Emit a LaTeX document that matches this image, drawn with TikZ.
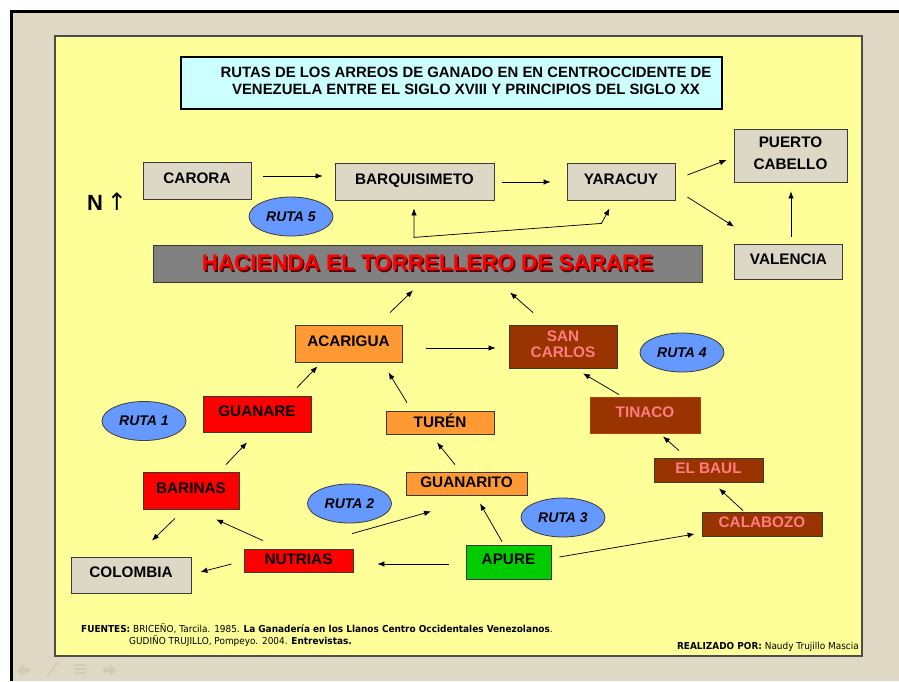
\documentclass[tikz,border=0pt]{standalone}
\usepackage{fontspec}
\setmainfont{Liberation Sans}
\newfontfamily\dejavu{DejaVu Sans}
\newfontfamily\footfont{DejaVu Sans}[FakeStretch=0.93]
\usetikzlibrary{arrows.meta,shapes.geometric,calc}
\definecolor{outerbg}{HTML}{DFD8C5}
\definecolor{panel}{HTML}{FFFF99}
\definecolor{beigebox}{HTML}{DDD8C6}
\definecolor{cyanbox}{HTML}{CCFFFF}
\definecolor{graybox}{HTML}{808080}
\definecolor{orangebox}{HTML}{FF9933}
\definecolor{redbox}{HTML}{FF0000}
\definecolor{brownbox}{HTML}{993300}
\definecolor{pinktext}{HTML}{FF7C80}
\definecolor{greenbox}{HTML}{00CC00}
\definecolor{rutafill}{HTML}{6699FF}
\definecolor{boxline}{HTML}{3A3A3A}
\definecolor{navgray}{HTML}{D2CBB8}
\definecolor{shadowred}{HTML}{5A0000}
\newcommand{\shadowtxt}[1]{\rlap{\kern1.6pt\raisebox{-1.6pt}{\color{shadowred}#1}}#1}
\begin{document}
\begin{tikzpicture}[x=1pt,y=-1pt,
  box/.style={draw=boxline, line width=0.8pt, inner sep=0pt, align=center,
    text depth=5pt, font=\bfseries\fontsize{15.3}{22}\selectfont},
  ruta/.style={ellipse, draw=boxline, line width=0.8pt, fill=rutafill,
    minimum width=84pt, minimum height=39pt, inner sep=0pt,
    font=\bfseries\itshape\fontsize{14}{15}\selectfont},
  arr/.style={-{Latex[length=7pt,width=5.5pt]}, line width=0.75pt},
  arrboth/.style={{Latex[length=7pt,width=5.5pt]}-{Latex[length=7pt,width=5.5pt]}, line width=0.75pt}]
\useasboundingbox (0,0) rectangle (899,681);
\fill[white] (0,0) rectangle (899,681);
\fill[outerbg] (11,11) rectangle (899,681);
\draw[black, line width=3.5pt] (11.5,681) -- (11.5,11.5) -- (899,11.5);
\draw[fill=panel, draw=gray!60!black, line width=1.2pt] (55,36) rectangle (862,656);
% nav icons
\fill[navgray] (17,670) -- (23,664) -- (23,667.5) -- (30,667.5) -- (30,672.5) -- (23,672.5) -- (23,676) -- cycle;
\draw[navgray, line width=1.6pt] (47,677) -- (57,663);
\fill[navgray] (74,664) rectangle (86,666) (74,668) rectangle (86,670) (74,672) rectangle (86,674);
\fill[navgray] (116,670) -- (110,664) -- (110,667.5) -- (103,667.5) -- (103,672.5) -- (110,672.5) -- (110,676) -- cycle;

% title
\node[draw=black, line width=2.4pt, fill=cyanbox, minimum width=541pt, minimum height=52pt,
  inner sep=0pt] (title) at (451.5,83) {};
\node[inner sep=0pt, align=center, font=\bfseries\fontsize{14.9}{17.5}\selectfont] (titletext) at (466,81)
  {RUTAS DE LOS ARREOS DE GANADO EN EN CENTROCCIDENTE DE\\VENEZUELA ENTRE EL SIGLO XVIII Y PRINCIPIOS DEL SIGLO XX};

\node[font=\bfseries\fontsize{22}{22}\selectfont, anchor=center] (north) at (107,202)
  {N\hspace{4pt}{\dejavu\mdseries\fontsize{24}{24}\selectfont ↑}};

% top row
\node[box, fill=beigebox, minimum width=108pt, minimum height=37pt] (carora) at (197,180.5) {CARORA};
\node[box, fill=beigebox, minimum width=159pt, minimum height=37pt] (barq) at (414.5,181.5) {BARQUISIMETO};
\node[box, fill=beigebox, minimum width=108pt, minimum height=37pt] (yar) at (621,181.5) {YARACUY};
\node[box, fill=beigebox, minimum width=113pt, minimum height=53pt] (pc) at (790.5,155.5) {PUERTO\\CABELLO};
\node[box, fill=beigebox, minimum width=108pt, minimum height=35pt] (val) at (788.5,261.5) {VALENCIA};

\node[draw=boxline, line width=0.8pt, fill=graybox, minimum width=549pt, minimum height=37pt, inner sep=0pt,
  font=\bfseries\fontsize{22.4}{24}\selectfont, text=red] (hac) at (427.5,263.5)
  {\shadowtxt{HACIENDA EL TORRELLERO DE SARARE}};

% middle
\node[box, fill=orangebox, minimum width=107pt, minimum height=37pt] (aca) at (348.5,343.5) {ACARIGUA};
\node[box, fill=brownbox, text=pinktext, minimum width=108pt, minimum height=43pt,
  font=\bfseries\fontsize{15.3}{16}\selectfont] (sc) at (563,346.5) {SAN\\CARLOS};
\node[box, fill=brownbox, text=pinktext, draw=brownbox!80!orange, minimum width=110pt, minimum height=36pt] (tin) at (645,415) {TINACO};
\node[box, fill=brownbox, text=pinktext, minimum width=109pt, minimum height=24pt, text depth=3pt] (baul) at (708.5,470) {EL BAUL};
\node[box, fill=brownbox, text=pinktext, minimum width=120pt, minimum height=24pt, text depth=3pt] (cal) at (762,524) {CALABOZO};
\node[box, fill=greenbox, minimum width=85pt, minimum height=34pt] (apure) at (508.5,562) {APURE};
\node[box, fill=orangebox, minimum width=121pt, minimum height=23pt, text depth=3pt] (guanarito) at (466.5,483.5) {GUANARITO};
\node[box, fill=orangebox, minimum width=108pt, minimum height=23pt, text depth=3pt] (turen) at (440,422.5) {TURÉN};
\node[box, fill=redbox, minimum width=108pt, minimum height=36pt] (guanare) at (257,414) {GUANARE};
\node[box, fill=redbox, minimum width=96pt, minimum height=37pt] (barinas) at (191,490.5) {BARINAS};
\node[box, fill=beigebox, minimum width=120pt, minimum height=36pt] (col) at (131,575) {COLOMBIA};
\node[box, fill=redbox, minimum width=109pt, minimum height=23pt, text depth=3pt] (nut) at (298.5,560.5) {NUTRIAS};

% rutas
\node[ruta] (r5) at (291,216.5) {RUTA 5};
\node[ruta] (r1) at (144,421) {RUTA 1};
\node[ruta] (r2) at (349.5,503.5) {RUTA 2};
\node[ruta] (r3) at (563,517.5) {RUTA 3};
\node[ruta] (r4) at (682,352.5) {RUTA 4};

% connectors
\draw[arr] ($(carora.east)+(12,-4.5)$) -- ($(barq.west)+(-12,-5.5)$);
\draw[arr] ($(barq.east)+(8,0.5)$) -- ($(yar.west)+(-16,0.5)$);
\draw[arr] ($(yar.east)+(12,-6.5)$) -- ($(pc.west)+(-7,4.5)$);
\draw[arr] ($(yar.east)+(12,15.5)$) -- ($(val.north west)+(0,-17)$);
\draw[arr] ($(val.north)+(2.5,-7)$) -- ($(pc.south)+(0.5,9)$);
\draw[arrboth] ($(barq.south)+(-0.5,8)$) -- ($(barq.south)+(-0.5,37)$) -- ($(yar.south)+(-19.5,23)$) -- ($(yar.south)+(-11.5,8)$);
\draw[arr] ($(aca.north)+(41.5,-12)$) -- ($(hac.south)+(-14.5,8)$);
\draw[arr] ($(sc.north)+(-30,-12)$) -- ($(hac.south)+(82.5,10)$);
\draw[arr] ($(aca.east)+(24,4.5)$) -- ($(sc.west)+(-13,1.5)$);
\draw[arr] ($(tin.north)+(-26,-2)$) -- ($(sc.south)+(20,5)$);
\draw[arr] ($(baul.north)+(-29.5,-7)$) -- ($(tin.south)+(18,3)$);
\draw[arr] ($(cal.north)+(-19,-1)$) -- ($(baul.south)+(10.5,6)$);
\draw[arr] ($(apure.east)+(8,-5)$) -- ($(cal.west)+(-7,10)$);
\draw[arr] ($(apure.north)+(-6.5,-3)$) -- ($(guanarito.south)+(13.5,8)$);
\draw[arr] ($(apure.west)+(-17,2)$) -- ($(nut.east)+(24,3.5)$);
\draw[arr] ($(guanarito.north)+(-11.5,-7)$) -- ($(turen.south)+(-3,8)$);
\draw[arr] ($(turen.north)+(-33,-8)$) -- ($(aca.south)+(40,10)$);
\draw[arr] ($(guanare.north)+(40,-8)$) -- ($(aca.south)+(-31,4)$);
\draw[arr] ($(barinas.north)+(35,-7)$) -- ($(guanare.south)+(-10,10)$);
\draw[arr] ($(barinas.south)+(-16,9)$) -- ($(col.north)+(21,-16)$);
\draw[arr] ($(nut.north)+(-35.5,-8)$) -- ($(barinas.south)+(25,10)$);
\draw[arr] ($(nut.west)+(-12,3.5)$) -- ($(col.east)+(9,-3)$);
\draw[arr] ($(nut.north)+(53.5,-15)$) -- ($(guanarito.south)+(-35.5,16)$);

% footer
\node[anchor=base west, inner sep=0pt, align=left, font=\footfont\fontsize{9.6}{12}\selectfont] (fuentes) at (81,632)
  {\textbf{FUENTES:} BRICEÑO, Tarcila. 1985. \textbf{La Ganadería en los Llanos Centro Occidentales Venezolanos}.};
\node[anchor=base west, inner sep=0pt, font=\footfont\fontsize{9.6}{12}\selectfont] (fuentes2) at (129,644)
  {GUDIÑO TRUJILLO, Pompeyo. 2004. \textbf{Entrevistas.}};
\node[anchor=base east, inner sep=0pt, font=\footfont\fontsize{9.6}{12}\selectfont] (autor) at (859,649)
  {\textbf{REALIZADO POR:} Naudy Trujillo Mascia};
\end{tikzpicture}
\end{document}
